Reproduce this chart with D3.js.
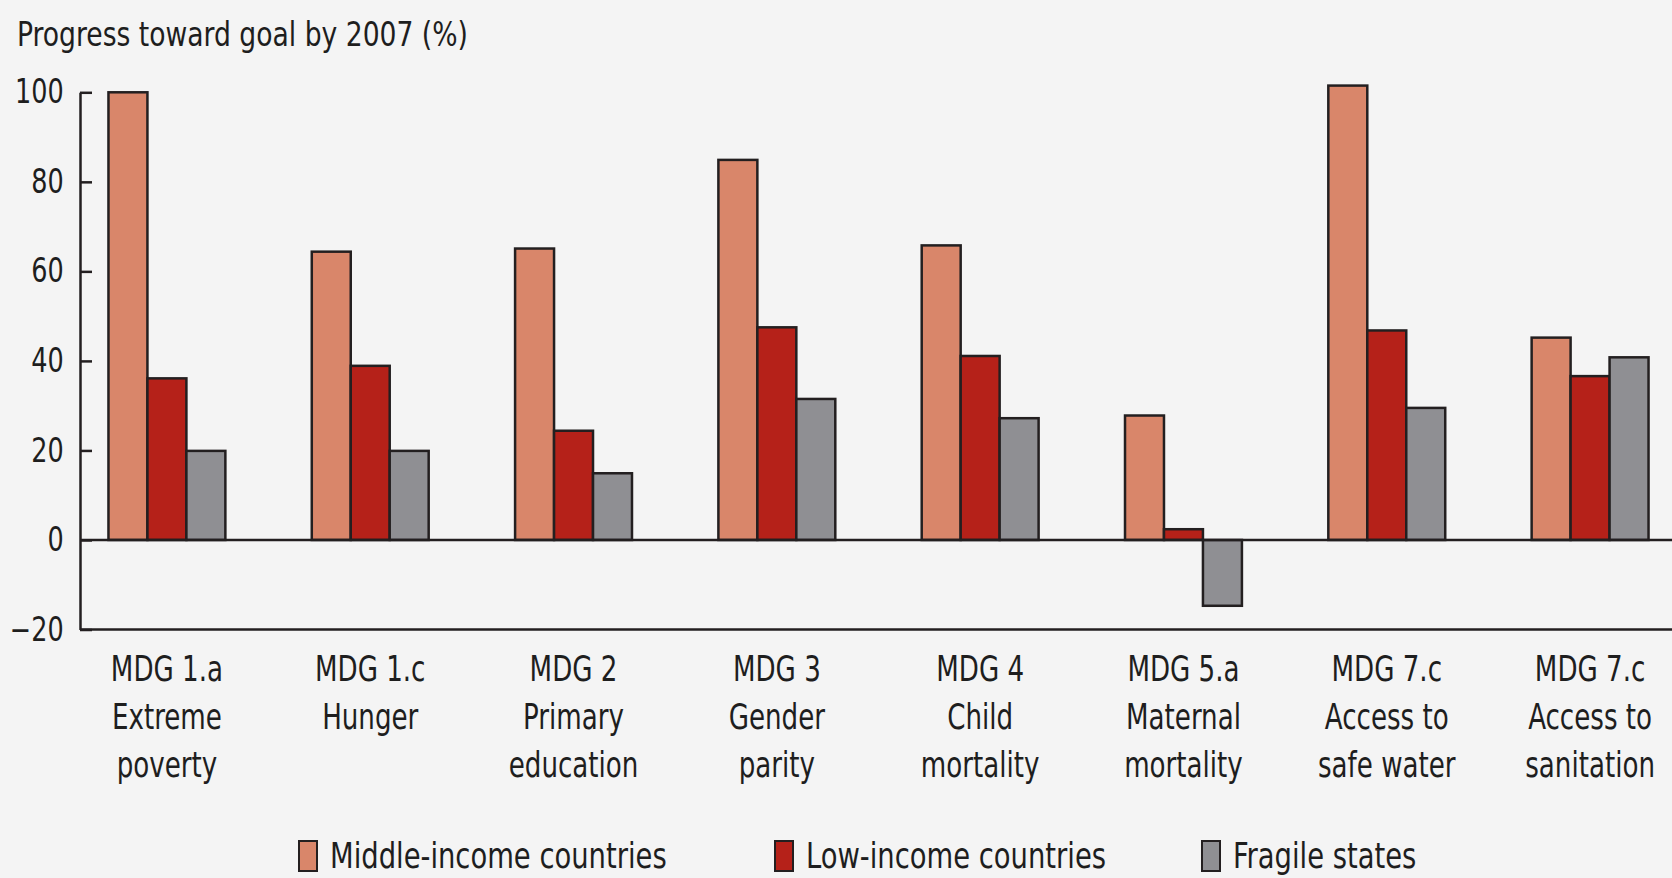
<!DOCTYPE html>
<html>
<head>
<meta charset="utf-8">
<script src="https://cdn.jsdelivr.net/npm/d3@7"></script>
<style>
  html, body { margin: 0; padding: 0; background: #f4f4f4; }
  svg { display: block; }
  text { font-family: "Liberation Sans Narrow", "DejaVu Sans Condensed", "Roboto", sans-serif; fill: #1e1e1e; }
</style>
</head>
<body>
<svg id="chart" width="1672" height="878"></svg>
<script>
// Goal categories (each label split into lines)
const categories = ["MDG 1.a", "MDG 1.c", "MDG 2", "MDG 3", "MDG 4", "MDG 5.a", "MDG 7.c water", "MDG 7.c sanitation"];
const categoryLabels = [
  ["MDG 1.a", "Extreme", "poverty"],
  ["MDG 1.c", "Hunger"],
  ["MDG 2", "Primary", "education"],
  ["MDG 3", "Gender", "parity"],
  ["MDG 4", "Child", "mortality"],
  ["MDG 5.a", "Maternal", "mortality"],
  ["MDG 7.c", "Access to", "safe water"],
  ["MDG 7.c", "Access to", "sanitation"]
];

// Progress toward goal by 2007 (%)
const middleIncome = [100, 64.4, 65.1, 84.9, 65.8, 27.8, 101.5, 45.2];
const lowIncome    = [36.1, 38.9, 24.4, 47.5, 41.1, 2.4, 46.8, 36.6];
const fragile      = [19.9, 19.9, 14.9, 31.5, 27.2, -14.7, 29.5, 40.8];

const seriesNames  = ["Middle-income countries", "Low-income countries", "Fragile states"];
const seriesColors = ["#d9866a", "#b52119", "#8f8f93"];
const yTicks = [-20, 0, 20, 40, 60, 80, 100];

const series = [middleIncome, lowIncome, fragile];

const svg = d3.select("#chart");
const W = 1672;
const INK = "#231f20";

const x = d3.scaleBand().domain(categories).range([80, 1677]).paddingInner(0.425).paddingOuter(0.14);
const xs = d3.scaleBand().domain(d3.range(series.length)).range([0, x.bandwidth()]);
const y = d3.scaleLinear().domain([-20, 100]).range([629.5, 92.3]);

// Title (horizontally condensed type)
svg.append("text")
  .attr("transform", "translate(17,46) scale(0.87,1)")
  .attr("font-size", 34)
  .text("Progress toward goal by 2007 (%)");

// Bars
const rows = categories.map((c, i) => series.map((s, j) => ({ cat: c, j, v: s[i] })));
svg.append("g").selectAll("g")
  .data(rows).join("g")
  .attr("transform", d => `translate(${x(d[0].cat)},0)`)
  .selectAll("rect")
  .data(d => d).join("rect")
  .attr("x", d => xs(d.j))
  .attr("width", xs.bandwidth())
  .attr("y", d => y(Math.max(0, d.v)))
  .attr("height", d => Math.abs(y(d.v) - y(0)))
  .attr("fill", d => seriesColors[d.j])
  .attr("stroke", INK)
  .attr("stroke-width", 2.5);

// Zero line and bottom line
svg.append("line")
  .attr("x1", 80).attr("x2", W)
  .attr("y1", y(0)).attr("y2", y(0))
  .attr("stroke", INK).attr("stroke-width", 2.5);
svg.append("line")
  .attr("x1", 80).attr("x2", W)
  .attr("y1", y(-20)).attr("y2", y(-20))
  .attr("stroke", INK).attr("stroke-width", 2.5);

// Y axis with inward ticks
const yAxis = svg.append("g")
  .attr("transform", "translate(80,0)")
  .call(d3.axisLeft(y).tickValues(yTicks).tickSizeInner(-12).tickSizeOuter(0).tickPadding(19)
    .tickFormat(d => d < 0 ? "\u2212" + Math.abs(d) : d));
yAxis.attr("font-family", null).attr("font-size", null);
yAxis.select(".domain").attr("stroke", INK).attr("stroke-width", 2.5);
yAxis.selectAll(".tick line").attr("stroke", INK).attr("stroke-width", 2.5);
yAxis.selectAll(".tick text")
  .attr("font-size", 33)
  .attr("fill", "#1e1e1e")
  .attr("transform", "scale(0.86,1)");

// Category labels
const lab = svg.append("g").selectAll("text")
  .data(categories).join("text")
  .attr("text-anchor", "middle")
  .attr("font-size", 35)
  .attr("transform", d => `translate(${x(d) + x.bandwidth() / 2},0) scale(0.83,1)`);
lab.selectAll("tspan")
  .data((d, i) => categoryLabels[i]).join("tspan")
  .attr("x", 0)
  .attr("y", (d, k) => 681 + k * 48)
  .text(d => d);

// Legend
const legendX = [299, 775, 1202];
const lg = svg.append("g").selectAll("g")
  .data(seriesNames).join("g")
  .attr("transform", (d, i) => `translate(${legendX[i]},841)`);
lg.append("rect")
  .attr("width", 18).attr("height", 30)
  .attr("fill", (d, i) => seriesColors[i])
  .attr("stroke", INK).attr("stroke-width", 2);
lg.append("text")
  .attr("transform", "translate(31,27) scale(0.87,1)")
  .attr("font-size", 35)
  .text(d => d);
</script>
</body>
</html>
